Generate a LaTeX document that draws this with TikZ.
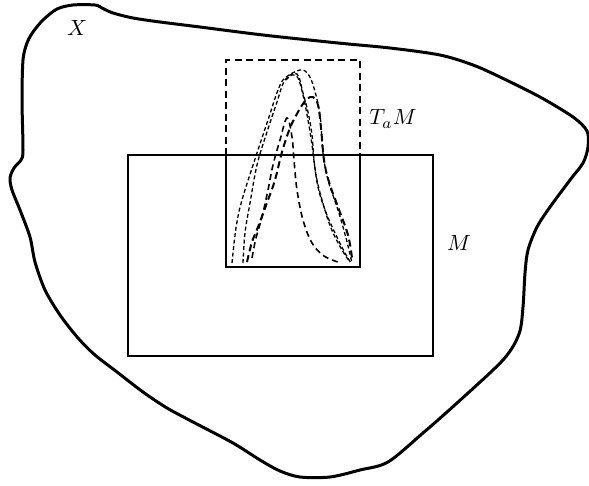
\documentclass[tikz,border=0pt]{standalone}
\usepackage{graphicx}
\begin{document}
\begin{tikzpicture}[x=1pt,y=-1pt,
  outline/.style={line width=3pt,line join=round},
  box/.style={line width=2pt},
  dbox/.style={line width=2pt,dash pattern=on 7pt off 4.5pt},
  fine/.style={line width=1.3pt,dash pattern=on 4pt off 2.5pt},
  thick dash/.style={line width=2pt,dash pattern=on 7pt off 4pt},
  med dash/.style={line width=1.6pt,dash pattern=on 6pt off 4pt},
  lab/.style={inner sep=0pt}]
\useasboundingbox (0,0) rectangle (589,485);
% outer region X
\draw[outline] plot[smooth cycle,tension=0.5] coordinates {
 (73,5) (95,5) (102,8) (113,13) (133,18) (160,22) (200,27) (263,35) (338,43)
 (390,48) (440,55) (473,65) (500,77) (540,97) (573,117) (587,131) (588,147)
 (583,163) (570,180) (550,207) (537,227) (528,250) (525,273) (523,307)
 (519,334) (503,360) (457,403) (423,433) (388,462) (360,470) (330,477)
 (300,477) (280,471) (260,460) (233,443) (193,422) (167,408) (143,392)
 (117,372) (95,355) (78,338) (60,315) (45,290) (35,262) (30,237)
 (20,210) (12,190) (10,178) (14,168) (21,160) (23,150) (22,100) (23,60)
 (27,43) (33,32) (43,20) (57,9)};
% M
\draw[box] (128,155) rectangle (433,356);
% T_aM
\draw[box] (226,155) rectangle (360,267);
\draw[dbox] (226,155) -- (226,60) -- (360,60) -- (360,155);
% dashed curves
\draw[fine] plot[smooth,tension=0.6] coordinates {
 (232,263) (236,228) (242,200) (257,153) (268,120) (278,90) (285,78) (300,70)
 (308,74) (314,88) (320,115) (323,153) (328,180) (338,210) (346,238) (352,263)};
\draw[fine] plot[smooth,tension=0.6] coordinates {
 (243,263) (245,233) (250,203) (257,165) (266,135) (276,105) (285,80) (297,74)
 (303,93) (308,112) (312,135) (314,160) (318,187) (325,210) (335,233) (345,253) (351,263)};
\draw[thick dash] plot[smooth,tension=0.6] coordinates {
 (247,262) (252,242) (258,227) (268,200) (275,180) (282,152) (290,128)
 (298,112) (306,100) (313,97) (318,105) (321,128) (324,160) (329,182)
 (338,207) (348,235) (352,258)};
\draw[med dash] plot[smooth,tension=0.6] coordinates {
 (252,258) (256,238) (262,217) (268,190) (273,165) (280,140) (287,118)
 (292,137) (294,160) (297,190) (303,220) (312,243) (324,256) (338,262)};
\draw[fine] plot[smooth,tension=0.6] coordinates {
 (286,80) (292,75) (298,78) (303,95) (308,120) (312,145) (316,175) (322,200) (331,228) (342,250) (350,262)};
% labels
\node[lab] (lx) at (77,28) {\scalebox{2.2}{$X$}};
\node[lab] (lt) at (393,119) {\scalebox{2.2}{$T_aM$}};
\node[lab] (lm) at (459,243) {\scalebox{2.2}{$M$}};
\end{tikzpicture}
\end{document}
